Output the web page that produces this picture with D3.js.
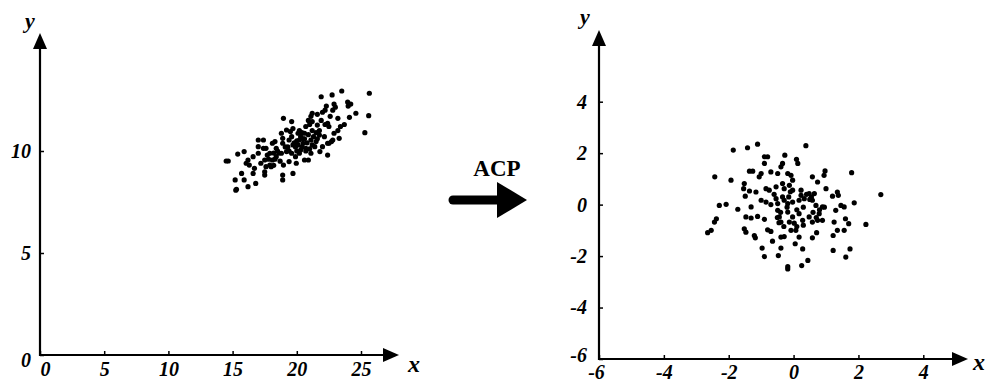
<!DOCTYPE html>
<html>
<head>
<meta charset="utf-8">
<script src="https://cdn.jsdelivr.net/npm/d3@7"></script>
<style>
  body { margin: 0; background: #fff; }
  text { font-family: "Liberation Serif", "DejaVu Serif", serif; }
</style>
</head>
<body>
<div id="chart"></div>
<script>
// ticks
const leftXTicks = [0, 5, 10, 15, 20, 25];
const leftYTicks = [0, 5, 10];
const rightXTicks = [-6, -4, -2, 0, 2, 4];
const rightYTicks = [-6, -4, -2, 0, 2, 4];

// original cloud (x, y)
const leftPoints = [
  [25.65,12.83],[25.6,11.73],[25.3,10.9],[23.5,12.94],[22.75,12.75],[21.9,12.66],[23.96,12.4],[24.0,12.2],
  [22.9,12.3],[23.0,12.15],[24.6,11.85],[24.1,11.65],[22.2,12.0],[21.2,11.85],[21.1,11.7],[18.96,11.6],
  [19.6,11.44],[23.4,11.2],[23.2,11.0],[22.9,10.87],[23.3,10.62],[22.7,10.46],[22.4,10.38],[21.6,11.27],
  [21.76,11.0],[21.76,10.78],[22.15,10.7],[19.7,11.1],[20.1,10.87],[19.5,10.95],[18.8,10.87],[20.7,11.2],
  [20.2,10.54],[20.5,10.38],[19.9,10.2],[20.3,10.05],[20.7,10.13],[21.1,10.54],[21.2,10.3],[19.4,10.54],
  [19.3,10.2],[18.9,10.38],[18.4,10.13],[18.1,10.38],[17.6,10.13],[17.4,10.54],[17.0,10.54],[17.9,9.89],
  [18.4,9.72],[18.8,9.89],[19.2,9.97],[19.6,9.89],[19.9,9.72],[20.2,9.89],[21.1,9.89],[21.8,9.97],
  [22.4,9.8],[20.6,9.56],[20.9,9.56],[19.96,9.4],[19.4,9.48],[18.96,9.31],[19.7,8.9],[18.9,8.82],
  [18.9,8.58],[18.1,9.56],[17.9,9.31],[17.5,9.56],[17.2,9.4],[17.6,9.23],[18.0,9.23],[17.0,9.89],
  [16.6,9.72],[16.2,9.56],[16.06,9.4],[16.3,9.31],[15.9,9.97],[15.4,9.85],[14.5,9.51],[14.66,9.51],
  [15.7,8.9],[16.7,9.15],[16.6,8.9],[17.5,8.98],[17.5,8.82],[15.9,8.58],[15.2,8.58],[16.8,8.41],
  [16.2,8.25],[15.3,8.12],[15.25,8.08],[17.0,10.21],[17.4,10.13],[18.3,10.46],[18.9,10.62],[19.2,11.03],
  [20.6,10.87],[21.5,10.46],[21.4,10.21],[22.0,10.21],[22.5,10.38],[22.8,10.54],[22.4,11.36],[22.5,11.2],
  [23.2,11.6],[22.8,12.0],[21.2,11.44],[20.0,10.5],[20.3,10.7],[20.6,10.6],[20.8,10.4],[20.4,10.2],
  [19.8,10.4],[19.6,10.7],[20.9,10.8],[21.2,11.0],[21.5,10.9],[20.1,10.3],[20.7,10.0],[19.4,10.0],
  [18.6,9.9],[18.3,9.6],[18.7,9.5],[17.8,9.6],[18.2,9.3],[18.5,10.0],[21.3,10.7],[21.0,11.3],
  [21.9,11.5],[22.2,11.3],[22.6,11.7],[22.0,11.9],[21.6,11.8],[20.9,11.5],[20.4,10.9],[20.0,10.0],
  [19.7,10.3],[21.6,10.6],[20.2,11.0],[19.1,10.2],[18.2,9.9],[17.7,9.8],[20.5,10.6],[21.0,10.1],
  [23.7,11.3],[24.2,12.3],[22.3,12.2]
];

// cloud after ACP
const rightPoints = [
  [-1.86,2.12],[-1.42,2.21],[-1.11,2.35],[0.38,2.29],[-0.27,1.92],[-0.9,1.86],[-0.8,1.86],[-0.9,1.6],
  [0.09,1.76],[0.13,1.6],[-0.34,1.6],[-0.39,1.47],[-2.43,1.08],[-1.93,0.95],[-1.36,1.3],[-1.26,1.3],
  [-1.0,1.21],[-1.06,1.08],[-0.7,1.27],[-0.49,1.21],[-0.18,1.21],[-0.08,1.14],[-0.03,0.95],[-0.13,0.75],
  [0.58,1.08],[0.74,0.88],[0.94,1.14],[0.97,1.31],[1.79,1.24],[-1.52,0.82],[-1.54,0.62],[-1.49,0.33],
  [-1.36,0.53],[-1.16,0.49],[-0.85,0.62],[-0.75,0.56],[-0.54,0.69],[-0.34,0.82],[-0.29,0.62],[-0.03,0.56],
  [0.23,0.56],[0.23,0.36],[0.48,0.43],[0.64,0.43],[1.0,0.62],[1.35,0.49],[1.38,0.36],[1.2,0.33],
  [2.69,0.39],[1.87,0.07],[-2.29,-0.03],[-2.08,0.01],[-1.72,-0.18],[-1.31,-0.09],[-1.0,0.17],[-0.85,0.1],
  [-0.54,0.23],[-0.49,0.04],[-0.34,0.3],[-0.29,0.17],[-0.18,0.04],[-0.03,0.1],[0.17,0.17],[0.33,0.23],
  [0.58,0.17],[0.69,-0.03],[0.89,-0.09],[1.46,-0.03],[1.56,-0.09],[1.3,-0.22],[-2.38,-0.55],[-2.44,-0.68],
  [-2.65,-1.09],[-2.54,-1.0],[-1.47,-0.48],[-1.31,-0.52],[-1.11,-0.46],[-0.9,-0.57],[-0.49,-0.22],[-0.44,-0.48],
  [-0.39,-0.68],[-0.13,-0.68],[0.02,-0.72],[-0.03,-0.48],[-0.18,-0.29],[0.17,-0.35],[0.28,-0.61],[0.48,-0.48],
  [0.58,-0.68],[0.74,-0.61],[0.89,-0.61],[0.79,-0.35],[1.25,-0.68],[1.6,-0.55],[1.7,-0.74],[2.23,-0.77],
  [-1.52,-0.94],[-1.47,-1.07],[-1.21,-1.2],[-1.18,-1.29],[-0.8,-0.98],[-0.7,-1.04],[-0.65,-1.42],[-0.39,-1.26],
  [-0.29,-1.24],[-0.08,-1.0],[0.07,-1.0],[0.17,-1.26],[0.05,-1.52],[0.71,-1.09],[0.58,-1.29],[1.35,-1.0],
  [1.56,-1.0],[1.22,-1.2],[-0.97,-1.69],[-0.39,-1.69],[0.28,-1.72],[1.22,-1.78],[1.74,-1.72],[-0.9,-2.02],
  [-0.47,-1.98],[1.61,-2.04],[0.44,-2.17],[0.25,-2.37],[-0.18,-2.41],[-0.18,-2.5],
  [-0.4,-0.3],[-0.5,-0.5],[-0.45,-0.7],[-0.2,-0.1],[0.1,-0.2],[0.3,-0.1],[0.5,0.2],[0.6,-0.3],
  [0.7,-0.5],[0.8,-0.2],[0.3,-0.8],[0.1,-0.85],[-0.3,-0.85],[-0.15,0.3],[-0.1,0.5],[0.4,0.4],
  [0.55,0.3],[-0.6,0.4],[-0.7,0.0],[0.95,-0.1]
];

const width = 987, height = 382;
const font = "'Liberation Serif', 'DejaVu Serif', serif";

const svg = d3.select("#chart").append("svg")
  .attr("width", width)
  .attr("height", height);

function arrowHead(x, y, dir) {
  // filled triangle, tip at (x, y)
  let pts;
  if (dir === "up") pts = [[x, y], [x - 7, y + 16], [x + 7, y + 16]];
  else pts = [[x, y], [x - 16, y - 7], [x - 16, y + 7]];
  svg.append("path").attr("d", d3.line()(pts) + "Z").attr("fill", "#000");
}

// one panel: scales, axes with arrows, dots
function drawPanel(p) {
  const x = d3.scaleLinear().domain(p.xDomain).range(p.xRange);
  const y = d3.scaleLinear().domain(p.yDomain).range(p.yRange);
  const g = svg.append("g");
  const x0 = p.xRange[0], y0 = p.yRange[0];
  const fmt = d => String(d); // plain hyphen for negatives, like the original

  const xAxis = g.append("g")
    .attr("transform", `translate(0,${y0})`)
    .call(d3.axisBottom(x).tickValues(p.xTicks).tickFormat(fmt)
      .tickSizeInner(-4).tickSizeOuter(0).tickPadding(p.xPad));
  const yAxis = g.append("g")
    .attr("transform", `translate(${x0},0)`)
    .call(d3.axisLeft(y).tickValues(p.yTicks).tickFormat(fmt)
      .tickSizeInner(-4).tickSizeOuter(0).tickPadding(p.yPad));

  [xAxis, yAxis].forEach(a => {
    a.select(".domain").remove();
    a.selectAll(".tick line").attr("stroke", "#000").attr("stroke-width", 1.5);
    a.selectAll(".tick text")
      .attr("fill", "#000")
      .style("font-family", font)
      .style("font-size", "20px")
      .style("font-weight", "bold")
      .style("font-style", "italic");
  });
  xAxis.selectAll(".tick text").attr("dy", "0.68em");
  p.tweak(xAxis, yAxis);

  // axis lines
  g.append("line").attr("x1", x0).attr("y1", y0).attr("x2", p.xEnd - 10).attr("y2", y0)
    .attr("stroke", "#000").attr("stroke-width", 2.2);
  g.append("line").attr("x1", x0).attr("y1", y0 + 1).attr("x2", x0).attr("y2", p.yEnd + 10)
    .attr("stroke", "#000").attr("stroke-width", 2.2);
  arrowHead(p.xEnd, y0, "right");
  arrowHead(x0, p.yEnd, "up");

  // axis names
  g.append("text").attr("x", p.xLab[0]).attr("y", p.xLab[1]).text("x")
    .style("font-family", font).style("font-size", "24px")
    .style("font-weight", "bold").style("font-style", "italic");
  g.append("text").attr("x", p.yLab[0]).attr("y", p.yLab[1]).text("y")
    .style("font-family", font).style("font-size", "22px")
    .style("font-weight", "bold").style("font-style", "italic");

  g.append("g").selectAll("circle")
    .data(p.points)
    .enter()
    .append("circle")
    .attr("cx", d => x(d[0]))
    .attr("cy", d => y(d[1]))
    .attr("r", 2.6)
    .attr("fill", "#000");
}

drawPanel({
  xDomain: [0, 25], xRange: [40, 361],
  yDomain: [0, 10], yRange: [355, 151],
  xTicks: leftXTicks, yTicks: leftYTicks, xPad: 7, yPad: 9,
  xEnd: 399, yEnd: 33,
  xLab: [408, 372], yLab: [25, 28],
  points: leftPoints,
  tweak: (xa, ya) => {
    xa.selectAll(".tick").filter(d => d === 0).select("text").attr("x", 5);
    ya.selectAll(".tick").filter(d => d === 0).select("text").attr("dy", "0.55em");
  }
});

drawPanel({
  xDomain: [-6, 4], xRange: [599, 923.3],
  yDomain: [-6, 4], yRange: [359, 101.7],
  xTicks: rightXTicks, yTicks: rightYTicks, xPad: 6, yPad: 12,
  xEnd: 968, yEnd: 30,
  xLab: [973, 370], yLab: [580, 24],
  points: rightPoints,
  tweak: (xa, ya) => {
    xa.selectAll(".tick").filter(d => d === -6).select("text").attr("x", -3);
    ya.selectAll(".tick").filter(d => d === -6).select("text").attr("dy", "0.1em");
  }
});

// ACP transformation arrow between the panels
svg.append("text")
  .attr("x", 497).attr("y", 176)
  .attr("text-anchor", "middle")
  .style("font-family", font)
  .style("font-size", "23px")
  .style("font-weight", "bold")
  .text("ACP");

svg.append("line")
  .attr("x1", 453).attr("y1", 200).attr("x2", 500).attr("y2", 200)
  .attr("stroke", "#000").attr("stroke-width", 9).attr("stroke-linecap", "round");
svg.append("path")
  .attr("d", d3.line()([[497, 182], [527, 200], [497, 218]]) + "Z")
  .attr("fill", "#000");
</script>
</body>
</html>
